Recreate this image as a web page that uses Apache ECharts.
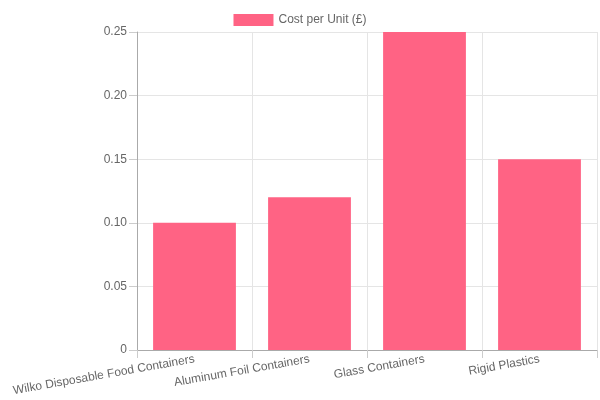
<!DOCTYPE html>
<html><head><meta charset="utf-8">
<script src="https://cdn.jsdelivr.net/npm/echarts@6/dist/echarts.min.js"></script>
<style>html,body{margin:0;padding:0;background:#fff}#c{width:600px;height:400px}</style>
</head><body><div id="c"></div>
<script>
const categories = ["Wilko Disposable Food Containers", "Aluminum Foil Containers", "Glass Containers", "Rigid Plastics"];
const costPerUnit = [0.10, 0.12, 0.25, 0.15];
const seriesName = "Cost per Unit (£)";
const yTicks = {min: 0, max: 0.25, interval: 0.05};

const chart = echarts.init(document.getElementById('c'), null, {renderer: 'canvas'});
const font = "'Liberation Sans', Arial, Helvetica, sans-serif";
chart.setOption({
  animation: false,
  textStyle: {fontFamily: font},
  legend: {
    top: 9, left: 'center',
    itemWidth: 40, itemHeight: 12, itemGap: 10,
    icon: 'rect',
    textStyle: {color: '#666', fontSize: 12, fontFamily: font},
    data: [seriesName]
  },
  grid: {left: 137, right: 3, top: 32, bottom: 50, containLabel: false},
  xAxis: {
    type: 'category',
    data: categories,
    boundaryGap: true,
    axisLine: {show: true, lineStyle: {color: '#aaa'}},
    axisTick: {show: true, length: 8, lineStyle: {color: '#ccc'}, alignWithLabel: false},
    splitLine: {show: true, lineStyle: {color: '#e5e5e5'}},
    axisLabel: {rotate: 10, color: '#666', fontSize: 12, fontFamily: font, interval: 0, margin: 9}
  },
  yAxis: {
    type: 'value',
    min: yTicks.min, max: yTicks.max, interval: yTicks.interval,
    axisLine: {show: true, lineStyle: {color: '#aaa'}},
    axisTick: {show: true, length: 8, lineStyle: {color: '#ccc'}},
    splitLine: {show: true, lineStyle: {color: '#e5e5e5'}},
    axisLabel: {color: '#666', fontSize: 12, fontFamily: font, margin: 10,
      formatter: v => v === 0 ? '0' : v.toFixed(2)}
  },
  series: [{
    name: seriesName,
    type: 'bar',
    data: costPerUnit,
    barWidth: '72%',
    itemStyle: {color: '#FF6384'}
  }]
});
</script></body></html>
